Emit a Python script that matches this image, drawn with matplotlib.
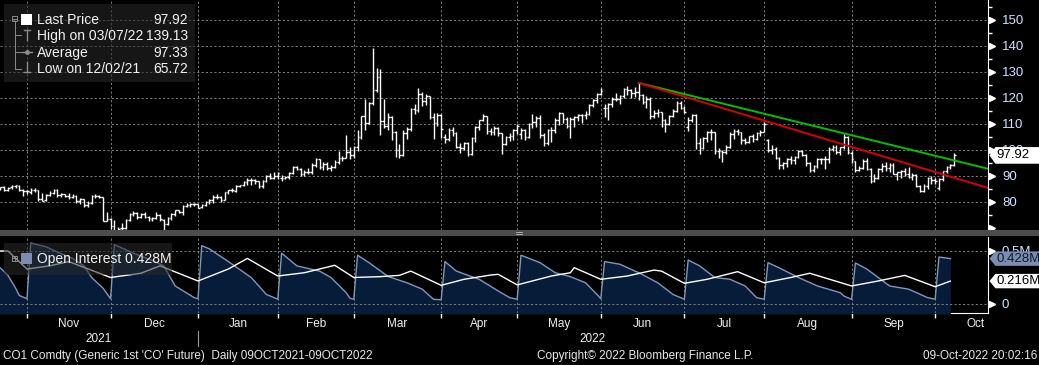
import numpy as np
import pandas as pd
import matplotlib
matplotlib.use("Agg")
import matplotlib.pyplot as plt
import matplotlib.transforms as mtransforms
from matplotlib.patches import Rectangle, Polygon
from matplotlib.ticker import MultipleLocator

plt.rcParams["font.family"] = ["Liberation Sans", "DejaVu Sans"]

# ---------------- data ----------------
# trading days shown (weekdays, ICE closed on Good Friday)
cal = pd.bdate_range("2021-10-19", "2022-10-31")
cal = cal[cal != pd.Timestamp("2022-04-15")]
n_bars = 253  # 19-Oct-2021 .. 07-Oct-2022

opens = [
    84.3, 85.1, 85.8, 84.6, 85.6, 86.0, 86.3, 84.6, 84.2,
    83.7, 84.7, 84.5, 81.0, 80.6, 82.8, 83.4, 84.8, 82.5, 82.9, 82.2, 82.1, 82.4, 80.3, 81.1, 79.0, 79.7, 82.3, 82.3, 81.9, 72.8, 73.5,
    70.6, 68.9, 69.9, 70.0, 73.1, 75.4, 75.8, 74.4, 75.2, 74.3, 73.6, 73.9, 75.0, 73.0, 71.6, 74.0, 75.3, 76.9, 76.1, 78.6, 78.9, 79.2, 79.3,
    78.0, 79.0, 80.0, 80.6, 82.0, 81.8, 80.9, 83.7, 84.7, 84.4, 86.1, 86.5, 87.5, 88.4, 88.3, 87.9, 86.3, 88.2, 90.0, 89.3, 90.0,
    89.3, 89.2, 89.5, 91.1, 93.3, 92.7, 90.8, 91.6, 91.4, 94.4, 96.5, 93.3, 94.8, 93.0, 93.5, 95.4, 96.8, 97.0, 99.1, 98.0,
    101.0, 105.0, 112.9, 110.5, 118.1, 123.2, 128.0, 111.1, 109.3, 112.7, 106.9, 99.9, 98.0, 106.6, 107.9, 115.6, 115.5, 121.6, 119.0, 120.7, 112.5, 110.2, 113.5,
    105.0, 104.4, 107.5, 106.6, 101.1, 100.6, 102.8, 98.5, 104.6, 108.8, 111.7, 113.2, 107.3, 106.8, 108.3, 106.7, 102.3, 105.0, 105.3, 107.6,
    106.0, 107.6, 105.0, 110.1, 110.9, 112.4, 105.9, 102.5, 107.5, 107.5, 111.6, 114.2, 111.9, 109.1, 112.0, 112.6, 113.4, 113.6, 114.0, 117.4, 119.4, 121.7,
    116.0, 116.3, 117.6, 119.7, 119.5, 120.6, 123.6, 123.1, 122.0, 122.3, 121.2, 118.5, 119.8, 113.1, 114.1, 114.7, 111.7, 110.1, 113.1, 115.1, 118.0, 116.3,
    109.0, 111.6, 113.5, 102.8, 100.7, 104.7, 107.0, 107.1, 99.5, 99.6, 99.1, 101.2, 106.3, 107.4, 106.9, 103.9, 103.2, 105.2, 104.4, 106.6, 107.1,
    103.9, 100.0, 100.5, 96.8, 94.1, 94.9, 96.7, 96.3, 97.4, 99.6, 98.2, 95.1, 92.3, 93.7, 96.6, 96.7, 96.5, 100.2, 101.2, 99.3, 101.0, 105.1, 99.0,
    95.6, 92.4, 93.0, 95.7, 92.8, 88.0, 89.2, 92.8, 94.0, 93.2, 94.1, 90.8, 91.4, 92.0, 90.6, 89.8, 90.5, 86.2, 84.1, 86.3, 89.3, 88.5,
    85.5, 88.9, 91.8, 93.4, 94.4,
]
highs = [
    85.5, 85.9, 86.1, 85.9, 86.7, 86.7, 86.4, 84.9, 84.8,
    85.2, 85.2, 84.6, 83.6, 83.0, 84.1, 85.0, 85.0, 83.5, 83.1, 83.4, 83.0, 82.5, 81.7, 81.2, 80.2, 82.5, 82.9, 82.5, 82.0, 76.1, 74.0,
    73.2, 70.4, 71.8, 73.4, 75.7, 76.4, 76.0, 75.6, 76.0, 74.8, 74.3, 76.0, 75.2, 73.4, 74.2, 75.6, 76.9, 76.9, 78.8, 79.6, 79.6, 79.8, 79.4,
    79.4, 80.4, 81.1, 82.6, 83.0, 82.3, 84.0, 84.8, 85.2, 86.7, 86.7, 88.1, 89.2, 89.1, 88.9, 88.2, 88.4, 90.5, 91.0, 91.7, 91.7,
    90.2, 90.0, 91.7, 93.7, 94.0, 92.9, 92.2, 93.0, 95.0, 96.8, 96.7, 95.4, 95.5, 94.2, 96.0, 99.5, 97.5, 105.8, 101.0, 101.6,
    107.5, 113.0, 119.8, 118.6, 139.1, 131.6, 131.0, 119.8, 114.3, 113.1, 107.2, 102.4, 107.6, 108.9, 116.0, 117.6, 124.0, 122.4, 121.5, 120.8, 114.2, 114.2, 114.0,
    106.0, 108.4, 108.8, 107.0, 102.6, 103.0, 103.0, 105.0, 109.2, 111.7, 114.0, 113.2, 108.5, 109.2, 108.9, 106.7, 105.2, 106.4, 108.0, 109.9,
    108.4, 108.1, 110.4, 114.0, 113.1, 113.5, 106.6, 108.0, 108.9, 112.2, 114.7, 114.4, 112.8, 112.5, 113.0, 114.0, 114.0, 115.0, 117.6, 119.7, 121.9, 124.0,
    117.5, 118.0, 120.5, 121.9, 121.0, 124.0, 124.8, 123.6, 124.4, 125.8, 121.5, 120.6, 120.2, 115.4, 115.9, 114.8, 112.0, 113.5, 115.8, 118.8, 118.8, 117.0,
    112.5, 114.0, 113.9, 104.6, 105.0, 107.3, 108.0, 107.1, 100.7, 100.0, 101.8, 107.0, 108.0, 108.1, 107.0, 104.5, 105.4, 106.1, 106.8, 107.5, 110.6,
    104.3, 101.9, 101.0, 97.4, 95.4, 97.1, 97.6, 97.6, 100.1, 99.9, 98.3, 95.3, 94.4, 97.0, 97.0, 97.5, 101.0, 102.0, 101.8, 101.0, 106.0, 105.3, 99.6,
    95.9, 94.0, 96.5, 97.0, 93.0, 90.6, 93.0, 95.0, 95.2, 95.0, 94.9, 91.5, 92.4, 93.0, 93.4, 91.3, 90.6, 86.5, 86.8, 89.6, 90.0, 89.4,
    89.2, 92.0, 93.9, 94.6, 98.8,
]
lows = [
    84.0, 84.5, 84.2, 84.2, 84.9, 85.4, 84.3, 82.4, 83.2,
    83.1, 84.0, 80.5, 80.3, 80.4, 82.3, 83.0, 82.0, 82.1, 81.8, 81.2, 81.4, 79.8, 79.3, 78.1, 77.9, 79.2, 81.5, 81.5, 72.6, 72.5, 69.8,
    68.6, 65.7, 68.9, 69.5, 72.8, 74.8, 73.6, 73.7, 74.0, 72.7, 72.5, 73.6, 72.7, 69.3, 71.2, 73.2, 74.8, 75.6, 75.0, 78.1, 78.2, 78.5, 77.8,
    77.6, 78.4, 79.1, 79.5, 81.3, 80.0, 80.6, 83.0, 83.7, 84.0, 85.6, 86.3, 86.6, 86.6, 86.8, 85.2, 85.4, 87.8, 88.9, 89.0, 88.8,
    88.0, 88.7, 88.9, 90.6, 92.4, 90.1, 89.9, 90.6, 90.7, 93.6, 92.8, 92.4, 92.3, 91.8, 92.9, 94.7, 95.7, 96.9, 96.6, 96.9,
    99.7, 104.2, 107.8, 110.0, 117.3, 122.2, 105.6, 108.3, 107.5, 103.8, 97.4, 97.0, 97.6, 104.4, 107.4, 113.8, 114.6, 117.1, 117.3, 111.9, 104.2, 109.1, 104.8,
    102.8, 103.5, 105.4, 100.6, 98.8, 100.0, 97.6, 98.0, 103.0, 107.5, 111.0, 106.3, 105.7, 105.7, 105.3, 98.4, 101.9, 103.6, 103.8, 106.0,
    104.1, 104.0, 104.5, 108.6, 109.0, 104.6, 101.7, 101.9, 103.1, 106.4, 109.5, 110.3, 108.3, 104.6, 108.8, 111.3, 110.5, 112.0, 113.3, 116.5, 117.9, 121.0,
    112.6, 111.5, 116.5, 118.9, 117.5, 119.9, 121.2, 120.0, 120.5, 119.2, 117.6, 116.2, 111.8, 112.3, 112.6, 108.8, 107.0, 109.6, 112.5, 114.8, 115.6, 114.4,
    107.3, 110.6, 100.3, 98.5, 100.2, 103.1, 104.0, 98.6, 96.8, 95.3, 98.5, 100.6, 104.4, 105.8, 102.4, 102.2, 102.5, 103.2, 103.7, 105.2, 106.9,
    99.1, 98.4, 96.4, 92.8, 92.7, 93.5, 94.6, 94.7, 96.8, 97.6, 94.0, 91.5, 91.6, 93.2, 94.8, 92.6, 95.0, 99.5, 98.6, 98.2, 100.4, 98.6, 95.1,
    91.6, 91.8, 92.6, 92.3, 87.3, 87.6, 89.0, 91.7, 91.8, 91.4, 90.6, 88.6, 89.3, 90.0, 89.1, 88.3, 85.7, 83.7, 83.9, 84.9, 86.9, 86.8,
    84.7, 88.0, 91.3, 92.6, 94.0,
]
closes = [
    85.1, 85.8, 84.6, 85.5, 86.0, 86.4, 84.6, 84.3, 84.4,
    84.7, 84.7, 81.0, 80.5, 82.7, 83.4, 84.8, 82.6, 82.9, 82.2, 82.1, 82.4, 80.3, 81.2, 78.9, 79.7, 82.3, 82.3, 81.9, 72.7, 73.4, 70.6,
    68.9, 69.7, 69.9, 73.1, 75.4, 75.8, 74.4, 75.2, 74.4, 73.7, 73.9, 75.0, 73.5, 71.5, 74.0, 75.3, 76.9, 76.1, 78.6, 78.9, 79.2, 79.3, 77.8,
    79.0, 80.0, 80.8, 82.0, 81.8, 80.9, 83.7, 84.7, 84.5, 86.1, 86.5, 87.5, 88.4, 88.4, 87.9, 86.3, 88.2, 90.0, 89.3, 90.0, 91.2,
    89.2, 89.5, 91.1, 93.3, 92.7, 90.8, 91.6, 91.4, 94.4, 96.5, 93.3, 94.8, 93.0, 93.5, 95.4, 96.8, 96.8, 99.1, 97.9, 101.0,
    105.0, 112.9, 110.5, 118.1, 123.2, 128.0, 111.1, 109.3, 112.7, 106.9, 99.9, 98.0, 106.6, 107.9, 115.6, 115.5, 121.6, 119.0, 120.7, 112.5, 110.2, 113.5, 107.9,
    104.4, 107.5, 106.6, 101.1, 100.6, 102.8, 98.5, 104.6, 108.8, 111.7, 113.2, 107.3, 106.8, 108.3, 106.7, 102.3, 105.0, 105.3, 107.6, 109.3,
    107.6, 105.0, 110.1, 110.9, 112.4, 105.9, 102.5, 107.5, 107.5, 111.6, 114.2, 111.9, 109.1, 112.0, 112.6, 113.4, 113.6, 114.0, 117.4, 119.4, 121.7, 122.8,
    116.3, 117.6, 119.7, 119.5, 120.6, 123.6, 123.1, 122.0, 122.3, 121.2, 118.5, 119.8, 113.1, 114.1, 114.7, 111.7, 110.1, 113.1, 115.1, 118.0, 116.3, 114.8,
    111.6, 113.5, 102.8, 100.7, 104.7, 107.0, 107.1, 99.5, 99.6, 99.1, 101.2, 106.3, 107.4, 106.9, 103.9, 103.2, 105.2, 104.4, 106.6, 107.1, 110.0,
    100.0, 100.5, 96.8, 94.1, 94.9, 96.7, 96.3, 97.4, 99.6, 98.2, 95.1, 92.3, 93.7, 96.6, 96.7, 96.5, 100.2, 101.2, 99.3, 101.0, 105.1, 99.3, 96.5,
    92.4, 93.0, 95.7, 92.8, 88.0, 89.2, 92.8, 94.0, 93.2, 94.1, 90.8, 91.4, 92.0, 90.6, 89.8, 90.5, 86.2, 84.1, 86.3, 89.3, 88.5, 88.0,
    88.9, 91.8, 93.4, 94.4, 97.92,
]

# open interest of the front contract (millions)
oi_dates = [
    "2021-10-19", "2021-10-20", "2021-10-22", "2021-10-26", "2021-10-27", "2021-10-29",
    "2021-11-01", "2021-11-05", "2021-11-10", "2021-11-16", "2021-11-19", "2021-11-23", "2021-11-26", "2021-11-30",
    "2021-12-01", "2021-12-08", "2021-12-15", "2021-12-20", "2021-12-23", "2021-12-30", "2021-12-31",
    "2022-01-03", "2022-01-05", "2022-01-12", "2022-01-20", "2022-01-26", "2022-01-31",
    "2022-02-01", "2022-02-07", "2022-02-15", "2022-02-18", "2022-02-24", "2022-02-25", "2022-02-28",
    "2022-03-01", "2022-03-04", "2022-03-11", "2022-03-18", "2022-03-24", "2022-03-29", "2022-03-31",
    "2022-04-01", "2022-04-06", "2022-04-14", "2022-04-22", "2022-04-27", "2022-04-29",
    "2022-05-02", "2022-05-09", "2022-05-13", "2022-05-19", "2022-05-25", "2022-05-30", "2022-05-31",
    "2022-06-01", "2022-06-07", "2022-06-14", "2022-06-21", "2022-06-27", "2022-06-30",
    "2022-07-01", "2022-07-06", "2022-07-12", "2022-07-18", "2022-07-22", "2022-07-27", "2022-07-29",
    "2022-08-01", "2022-08-04", "2022-08-11", "2022-08-18", "2022-08-26", "2022-08-29", "2022-08-31",
    "2022-09-01", "2022-09-06", "2022-09-14", "2022-09-21", "2022-09-28", "2022-09-30",
    "2022-10-03", "2022-10-06",
]
oi_values = [
    0.36, 0.34, 0.27, 0.15, 0.08, 0.05,
    0.575, 0.54, 0.49, 0.43, 0.36, 0.25, 0.15, 0.05,
    0.56, 0.48, 0.41, 0.36, 0.17, 0.06, 0.05,
    0.55, 0.52, 0.40, 0.25, 0.09, 0.045,
    0.48, 0.36, 0.31, 0.25, 0.107, 0.054, 0.045,
    0.46, 0.39, 0.26, 0.20, 0.14, 0.044, 0.04,
    0.40, 0.31, 0.233, 0.123, 0.06, 0.045,
    0.46, 0.39, 0.295, 0.258, 0.20, 0.09, 0.05,
    0.40, 0.375, 0.295, 0.20, 0.09, 0.045,
    0.415, 0.36, 0.25, 0.233, 0.17, 0.06, 0.045,
    0.39, 0.34, 0.25, 0.17, 0.107, 0.075, 0.044,
    0.387, 0.33, 0.17, 0.14, 0.06, 0.045,
    0.443, 0.428,
]

# second (white) open interest series (millions)
line2_dates = [
    "2021-10-20", "2021-10-22", "2021-10-29", "2021-11-08", "2021-11-15", "2021-11-30",
    "2021-12-10", "2021-12-17", "2021-12-31", "2022-01-12", "2022-01-19", "2022-01-31",
    "2022-02-09", "2022-02-21", "2022-02-28", "2022-03-09", "2022-03-16", "2022-03-21", "2022-03-31",
    "2022-04-08", "2022-04-20", "2022-04-22", "2022-04-29", "2022-05-12", "2022-05-19", "2022-05-20",
    "2022-05-31", "2022-06-09", "2022-06-20", "2022-06-22", "2022-06-30", "2022-07-08", "2022-07-20",
    "2022-07-29", "2022-08-09", "2022-08-16", "2022-08-31", "2022-09-09", "2022-09-20", "2022-09-30",
    "2022-10-06",
]
line2_values = [
    0.50, 0.50, 0.33, 0.36, 0.40, 0.25,
    0.29, 0.36, 0.217, 0.33, 0.43, 0.264,
    0.295, 0.365, 0.25, 0.258, 0.27, 0.31, 0.176,
    0.233, 0.273, 0.28, 0.18, 0.264, 0.295, 0.343,
    0.233, 0.264, 0.32, 0.31, 0.195, 0.233, 0.305,
    0.20, 0.25, 0.29, 0.17, 0.217, 0.27, 0.163,
    0.216,
]

# trend lines drawn on the price panel: two anchor points each
trend_green = [("2022-06-14", 125.8), ("2022-08-29", 106.4)]
trend_red = [("2022-06-14", 125.8), ("2022-07-29", 111.3)]

legend_labels = ["Last Price", "High on 03/07/22", "Average", "Low on 12/02/21"]
legend_values = ["97.92", "139.13", "97.33", "65.72"]
oi_legend = "Open Interest 0.428M"
oi_last_label = "0.428M"
line2_last_label = "0.216M"

price_ticks = [80, 90, 100, 110, 120, 130, 140, 150]
oi_ticks = [0, 0.5]
oi_tick_labels = ["0", "0.5M"]
month_labels = ["Nov", "Dec", "Jan", "Feb", "Mar", "Apr", "May", "Jun", "Jul", "Aug", "Sep", "Oct"]
year_labels = ["2021", "2022"]
footer_left = "CO1 Comdty (Generic 1st 'CO' Future)  Daily 09OCT2021-09OCT2022"
footer_mid = "Copyright\u00a9 2022 Bloomberg Finance L.P."
footer_right = "09-Oct-2022 20:02:16"

# ---------------- layout ----------------
W, H = 1039, 365
pos = {d.strftime("%Y-%m-%d"): i for i, d in enumerate(cal)}
idx = pd.Series(np.arange(len(cal)), index=cal)
month_last = idx.groupby([cal.year, cal.month]).max().values  # Oct21 .. Oct22
grid_x = month_last[:-1]
xlim = (0.9, 260.9)

def frect(x0, y0, x1, y1):
    return [x0 / W, 1 - y1 / H, (x1 - x0) / W, (y1 - y0) / H]

fig = plt.figure(figsize=(W / 100, H / 100), dpi=100, facecolor="black")
ax = fig.add_axes(frect(0, 0, 988, 230), facecolor="black")
ax2 = fig.add_axes(frect(0, 237, 988, 313), facecolor="black")

grid_kw = dict(color="#7c7c7c", lw=0.7, dashes=(2.2, 2.2))
label_col = "#cfe2ff"

# ---- price panel ----
xs = np.arange(n_bars)
ax.vlines(xs, lows, highs, color="white", lw=1.0, zorder=3)
ax.hlines(opens, xs - 0.45, xs, color="white", lw=1.0, zorder=3)
ax.hlines(closes, xs, xs + 0.45, color="white", lw=1.0, zorder=3)

for gx in grid_x:
    ax.axvline(gx, zorder=1, **grid_kw)
for gy in price_ticks:
    ax.axhline(gy, zorder=1, **grid_kw)

for (d0, v0), (d1, v1), col in [(trend_green[0], trend_green[1], "#00c000"),
                                 (trend_red[0], trend_red[1], "#d80000")]:
    x0, x1 = pos[d0], pos[d1]
    k = (v1 - v0) / (x1 - x0)
    ax.plot([x0, xlim[1]], [v0, v0 + k * (xlim[1] - x0)], color=col, lw=1.4, zorder=4)

ax.set_xlim(*xlim)
ax.set_ylim(69.23, 157.69)
ax.yaxis.tick_right()
ax.set_yticks(price_ticks)
ax.yaxis.set_minor_locator(MultipleLocator(5))
ax.tick_params(axis="y", which="major", length=0, pad=10, labelsize=9.5, labelcolor=label_col)
ax.tick_params(axis="y", which="minor", length=3, width=1, color="white")
ax.tick_params(axis="x", which="both", length=0, labelbottom=False)
for s in ["top", "left", "bottom"]:
    ax.spines[s].set_visible(False)
ax.spines["right"].set_color("white")

tr1 = mtransforms.blended_transform_factory(ax.transAxes, ax.transData)
tri1 = [70] + price_ticks
ax.plot([1.0036] * len(tri1), tri1, ls="none", marker=">", ms=5, color="white",
        transform=tr1, clip_on=False, zorder=5)

last = closes[-1]
hp = 3.2
ax.add_patch(Polygon([(1.0015, last), (1.0075, last + hp), (1.06, last + hp),
                      (1.06, last - hp), (1.0075, last - hp)], closed=True,
                     fc="white", ec="none", transform=tr1, clip_on=False, zorder=6))
ax.text(1.0085, last, legend_values[0], transform=tr1, ha="left", va="center",
        fontsize=9.5, color="black", zorder=7)

# ---- open interest panel ----
oi_x = [pos[d] for d in oi_dates]
l2_x = [pos[d] for d in line2_dates]
ax2.fill_between(oi_x, oi_values, -1, color="#071c38", lw=0, zorder=2.6)
ax2.plot(oi_x, oi_values, color="#8397ba", lw=1.0, zorder=2.8)
ax2.plot(l2_x, line2_values, color="white", lw=1.0, zorder=3)
for gx in grid_x:
    ax2.axvline(gx, zorder=2.7, **grid_kw)
for gy in oi_ticks:
    ax2.axhline(gy, zorder=2.7, **grid_kw)

ax2.set_xlim(*xlim)
ax2.set_ylim(-0.085, 0.632)
ax2.yaxis.tick_right()
ax2.set_yticks(oi_ticks)
ax2.set_yticklabels(oi_tick_labels)
ax2.tick_params(axis="y", length=0, pad=10, labelsize=9.5, labelcolor=label_col)
ax2.set_xticks(grid_x)
ax2.tick_params(axis="x", length=3.5, width=1, color="white", labelbottom=False)
for s in ["top", "left"]:
    ax2.spines[s].set_visible(False)
ax2.spines["right"].set_color("white")
ax2.spines["bottom"].set_color("white")

tr2 = mtransforms.blended_transform_factory(ax2.transAxes, ax2.transData)
ax2.plot([1.0036] * len(oi_ticks), oi_ticks, ls="none", marker=">", ms=5, color="white",
         transform=tr2, clip_on=False, zorder=5)
hb = 0.068
for val, txt, fc, tc in [(oi_values[-1], oi_last_label, "#7b8eb0", "#0c1a30"),
                         (line2_values[-1], line2_last_label, "white", "black")]:
    ax2.add_patch(Polygon([(1.0015, val), (1.0075, val + hb), (1.06, val + hb),
                           (1.06, val - hb), (1.0075, val - hb)], closed=True,
                          fc=fc, ec="none", transform=tr2, clip_on=False, zorder=6))
    ax2.text(1.0085, val, txt, transform=tr2, ha="left", va="center",
             fontsize=9.5, color=tc, zorder=7)

# ---- date labels ----
trx = mtransforms.blended_transform_factory(ax2.transData, fig.transFigure)
for lab, a, b in zip(month_labels, month_last[:-1], month_last[1:]):
    fig.text((a + b) / 2, 1 - 324 / H, lab, transform=trx, ha="center", va="center",
             fontsize=8.5, color="#f0f0f0")
year_split = month_last[2]  # last day of 2021
fig.text((xlim[0] + year_split) / 2, 1 - 339 / H, year_labels[0], transform=trx,
         ha="center", va="center", fontsize=8.5, color="#f0f0f0")
fig.text((year_split + xlim[1]) / 2, 1 - 339 / H, year_labels[1], transform=trx,
         ha="center", va="center", fontsize=8.5, color="#f0f0f0")
fig.add_artist(plt.Line2D([year_split, year_split], [1 - 331 / H, 1 - 346 / H],
                          transform=trx, color="#9a9a9a", lw=0.8))

# ---- overlay in pixel coordinates: legends, separator, footer ----
ov = fig.add_axes([0, 0, 1, 1])
ov.set_xlim(0, W)
ov.set_ylim(H, 0)
ov.axis("off")
ov.patch.set_visible(False)

ov.add_patch(Rectangle((0, 230), W, 6, fc="#4c4c4c", ec="none"))
ov.plot([516, 522], [232.3, 232.3], color="#bdbdbd", lw=0.6)
ov.plot([516, 522], [234, 234], color="#bdbdbd", lw=0.6)

gray = "#8c8c8c"
ov.add_patch(Rectangle((4, 4), 191, 78, fc=(0.16, 0.16, 0.16, 0.55), ec="none"))
ov.add_patch(Rectangle((12, 16), 5, 5, fill=False, ec=gray, lw=0.7))
ov.plot([13, 16], [18.5, 18.5], color=gray, lw=0.7)
ov.plot([14.5, 14.5], [21, 69], color=gray, lw=0.7)
for yy in [35, 52, 69]:
    ov.plot([14.5, 21], [yy, yy], color=gray, lw=0.7)
ov.add_patch(Rectangle((21, 14), 11, 11, fc="white", ec="none"))
ov.plot([24, 30], [30, 30], color=gray, lw=1.0)
ov.plot([27, 27], [30, 40], color=gray, lw=1.0)
ov.plot([22, 32], [52, 52], color=gray, lw=1.0)
ov.plot([27], [52], marker="o", ms=2.5, color=gray)
ov.plot([27, 27], [62, 72], color=gray, lw=1.0)
ov.plot([24, 30], [72, 72], color=gray, lw=1.0)
for k, (lab, val) in enumerate(zip(legend_labels, legend_values)):
    yy = 20 + k * 16.3
    ov.text(37, yy, lab, ha="left", va="center", fontsize=10, color="#f2f2f2")
    ov.text(188, yy, val, ha="right", va="center", fontsize=10, color="#f2f2f2")

ov.add_patch(Rectangle((4, 243), 168, 32, fc=(0.16, 0.16, 0.16, 0.55), ec="none"))
ov.add_patch(Rectangle((12, 255.5), 5, 5, fill=False, ec=gray, lw=0.7))
ov.plot([13, 16], [258, 258], color=gray, lw=0.7)
ov.plot([14.5, 14.5], [256.5, 259.5], color=gray, lw=0.7)
ov.add_patch(Rectangle((21, 252.5), 11, 11, fc="#7b8eb0", ec="none"))
ov.text(37, 258.5, oi_legend, ha="left", va="center", fontsize=10, color="#f2f2f2")

ov.text(3, 356, footer_left, ha="left", va="center", fontsize=8.5, color="#e8e8e8")
ov.text(537, 356, footer_mid, ha="left", va="center", fontsize=8.5, color="#e8e8e8")
ov.text(1037, 356, footer_right, ha="right", va="center", fontsize=8.5, color="#e8e8e8")

fig.savefig("out.png", dpi=100, facecolor="black")
